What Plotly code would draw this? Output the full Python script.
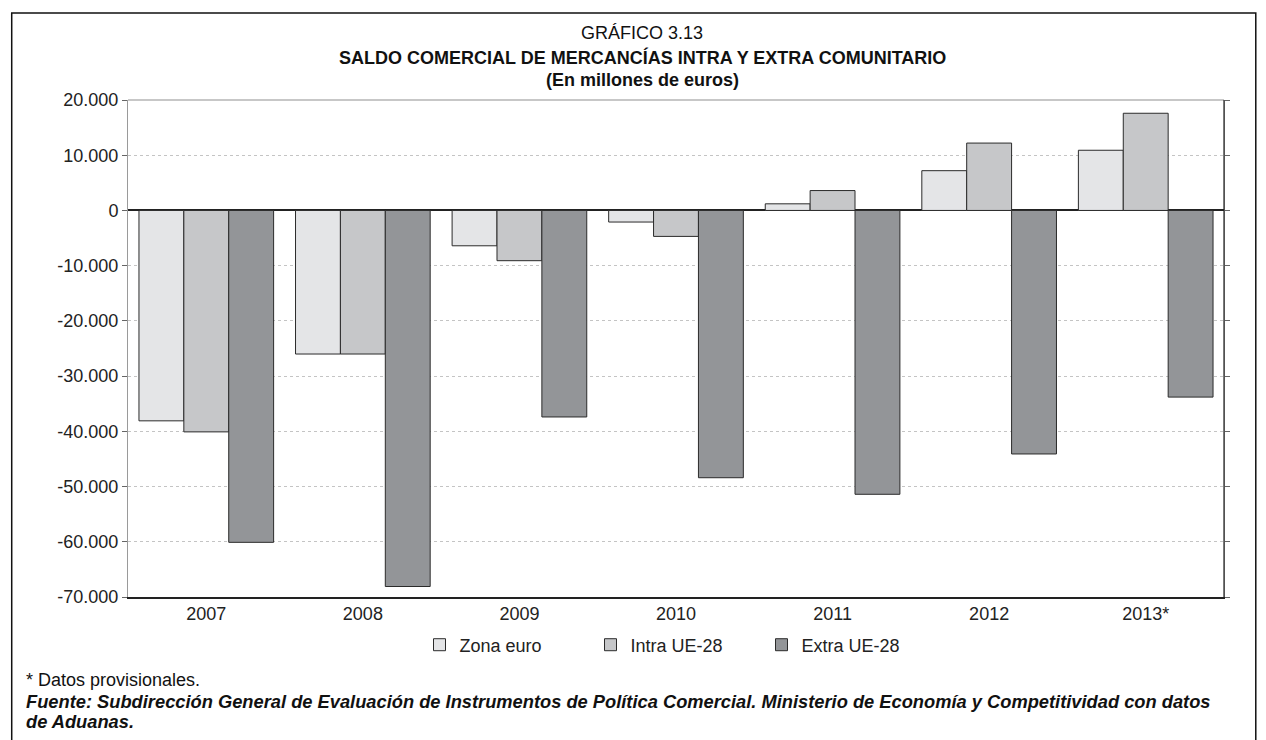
import plotly.graph_objects as go

# ==========================================
# DATA (millones de euros)
# ==========================================

years = ["2007", "2008", "2009", "2010", "2011", "2012", "2013*"]

zona_euro = [-38100, -26000, -6400, -2100, 1200, 7200, 10900]
intra_ue28 = [-40100, -26000, -9100, -4700, 3600, 12200, 17600]
extra_ue28 = [-60100, -68100, -37400, -48400, -51400, -44100, -33800]

y_ticks = [20000, 10000, 0, -10000, -20000, -30000, -40000, -50000, -60000, -70000]
y_tick_labels = ["20.000", "10.000", "0", "-10.000", "-20.000", "-30.000",
                 "-40.000", "-50.000", "-60.000", "-70.000"]

FONT = "Liberation Sans, Arial, sans-serif"
EDGE = "#2b2b2b"

# ==========================================
# FIGURE
# ==========================================

fig = go.Figure()

series = [
    ("Zona euro", zona_euro, "#e4e5e7"),
    ("Intra UE-28", intra_ue28, "#c6c7c9"),
    ("Extra UE-28", extra_ue28, "#939598"),
]

for name, vals, color in series:
    fig.add_trace(
        go.Bar(
            x=years,
            y=vals,
            name=name,
            marker=dict(color=color, line=dict(color=EDGE, width=1)),
        )
    )

# ==========================================
# FRAME LINES
# ==========================================

shapes = [
    # outer box
    dict(type="rect", xref="paper", yref="paper",
         x0=-0.1061, x1=1.029, y0=-0.31, y1=1.175,
         line=dict(color="#111", width=1.5), fillcolor="rgba(0,0,0,0)"),
    # top of plot area
    dict(type="line", xref="paper", yref="paper",
         x0=0, x1=1, y0=1, y1=1, line=dict(color="#b5b5b5", width=1.5)),
    # right of plot area
    dict(type="line", xref="paper", yref="paper",
         x0=1, x1=1, y0=0, y1=1, line=dict(color="#222", width=1.2)),
]

# ==========================================
# TEXT
# ==========================================

def note(text, x, y, size=18, anchor="center"):
    return dict(text=text, x=x, y=y, xref="paper", yref="paper",
                xanchor=anchor, yanchor="middle", showarrow=False,
                font=dict(size=size, color="#111"))

annotations = [
    note("GRÁFICO 3.13", 0.469, 1.1348),
    note("<b>SALDO COMERCIAL DE MERCANCÍAS INTRA Y EXTRA COMUNITARIO</b>", 0.469, 1.0865),
    note("<b>(En millones de euros)</b>", 0.469, 1.0402),
    note("* Datos provisionales.", -0.095, -0.167, 18, "left"),
    note("<b><i>Fuente: Subdirección General de Evaluación de Instrumentos de "
         "Política Comercial. Ministerio de Economía y Competitividad con datos</i></b>",
         -0.095, -0.2093, 18.3, "left"),
    note("<b><i>de Aduanas.</i></b>", -0.095, -0.2515, 18.3, "left"),
]

# ==========================================
# LAYOUT
# ==========================================

fig.update_layout(
    width=1258,
    height=732,
    margin=dict(l=120, r=42, t=92, b=143),
    paper_bgcolor="white",
    plot_bgcolor="white",
    font=dict(family=FONT, size=18, color="#222"),
    barmode="group",
    bargap=0.14,
    bargroupgap=0,
    showlegend=True,
    legend=dict(
        orientation="h",
        x=0.5, xanchor="center",
        y=-0.0966, yanchor="middle",
        font=dict(size=18),
        entrywidth=126,
        itemclick=False,
    ),
    xaxis=dict(
        showline=True, linecolor="#222", linewidth=1.5,
        ticks="", tickfont=dict(size=18), showgrid=False,
    ),
    yaxis=dict(
        range=[-70000, 20000],
        tickvals=y_ticks,
        ticktext=y_tick_labels,
        tickfont=dict(size=18),
        showline=True, linecolor="#9a9a9a", linewidth=1, mirror="ticks",
        ticks="outside", ticklen=5, tickcolor="#666",
        showgrid=True, gridcolor="#c4c4c4", griddash="dot", gridwidth=1,
        zeroline=True, zerolinecolor="#222", zerolinewidth=1.5,
    ),
    shapes=shapes,
    annotations=annotations,
)

fig.write_html("out.html")
